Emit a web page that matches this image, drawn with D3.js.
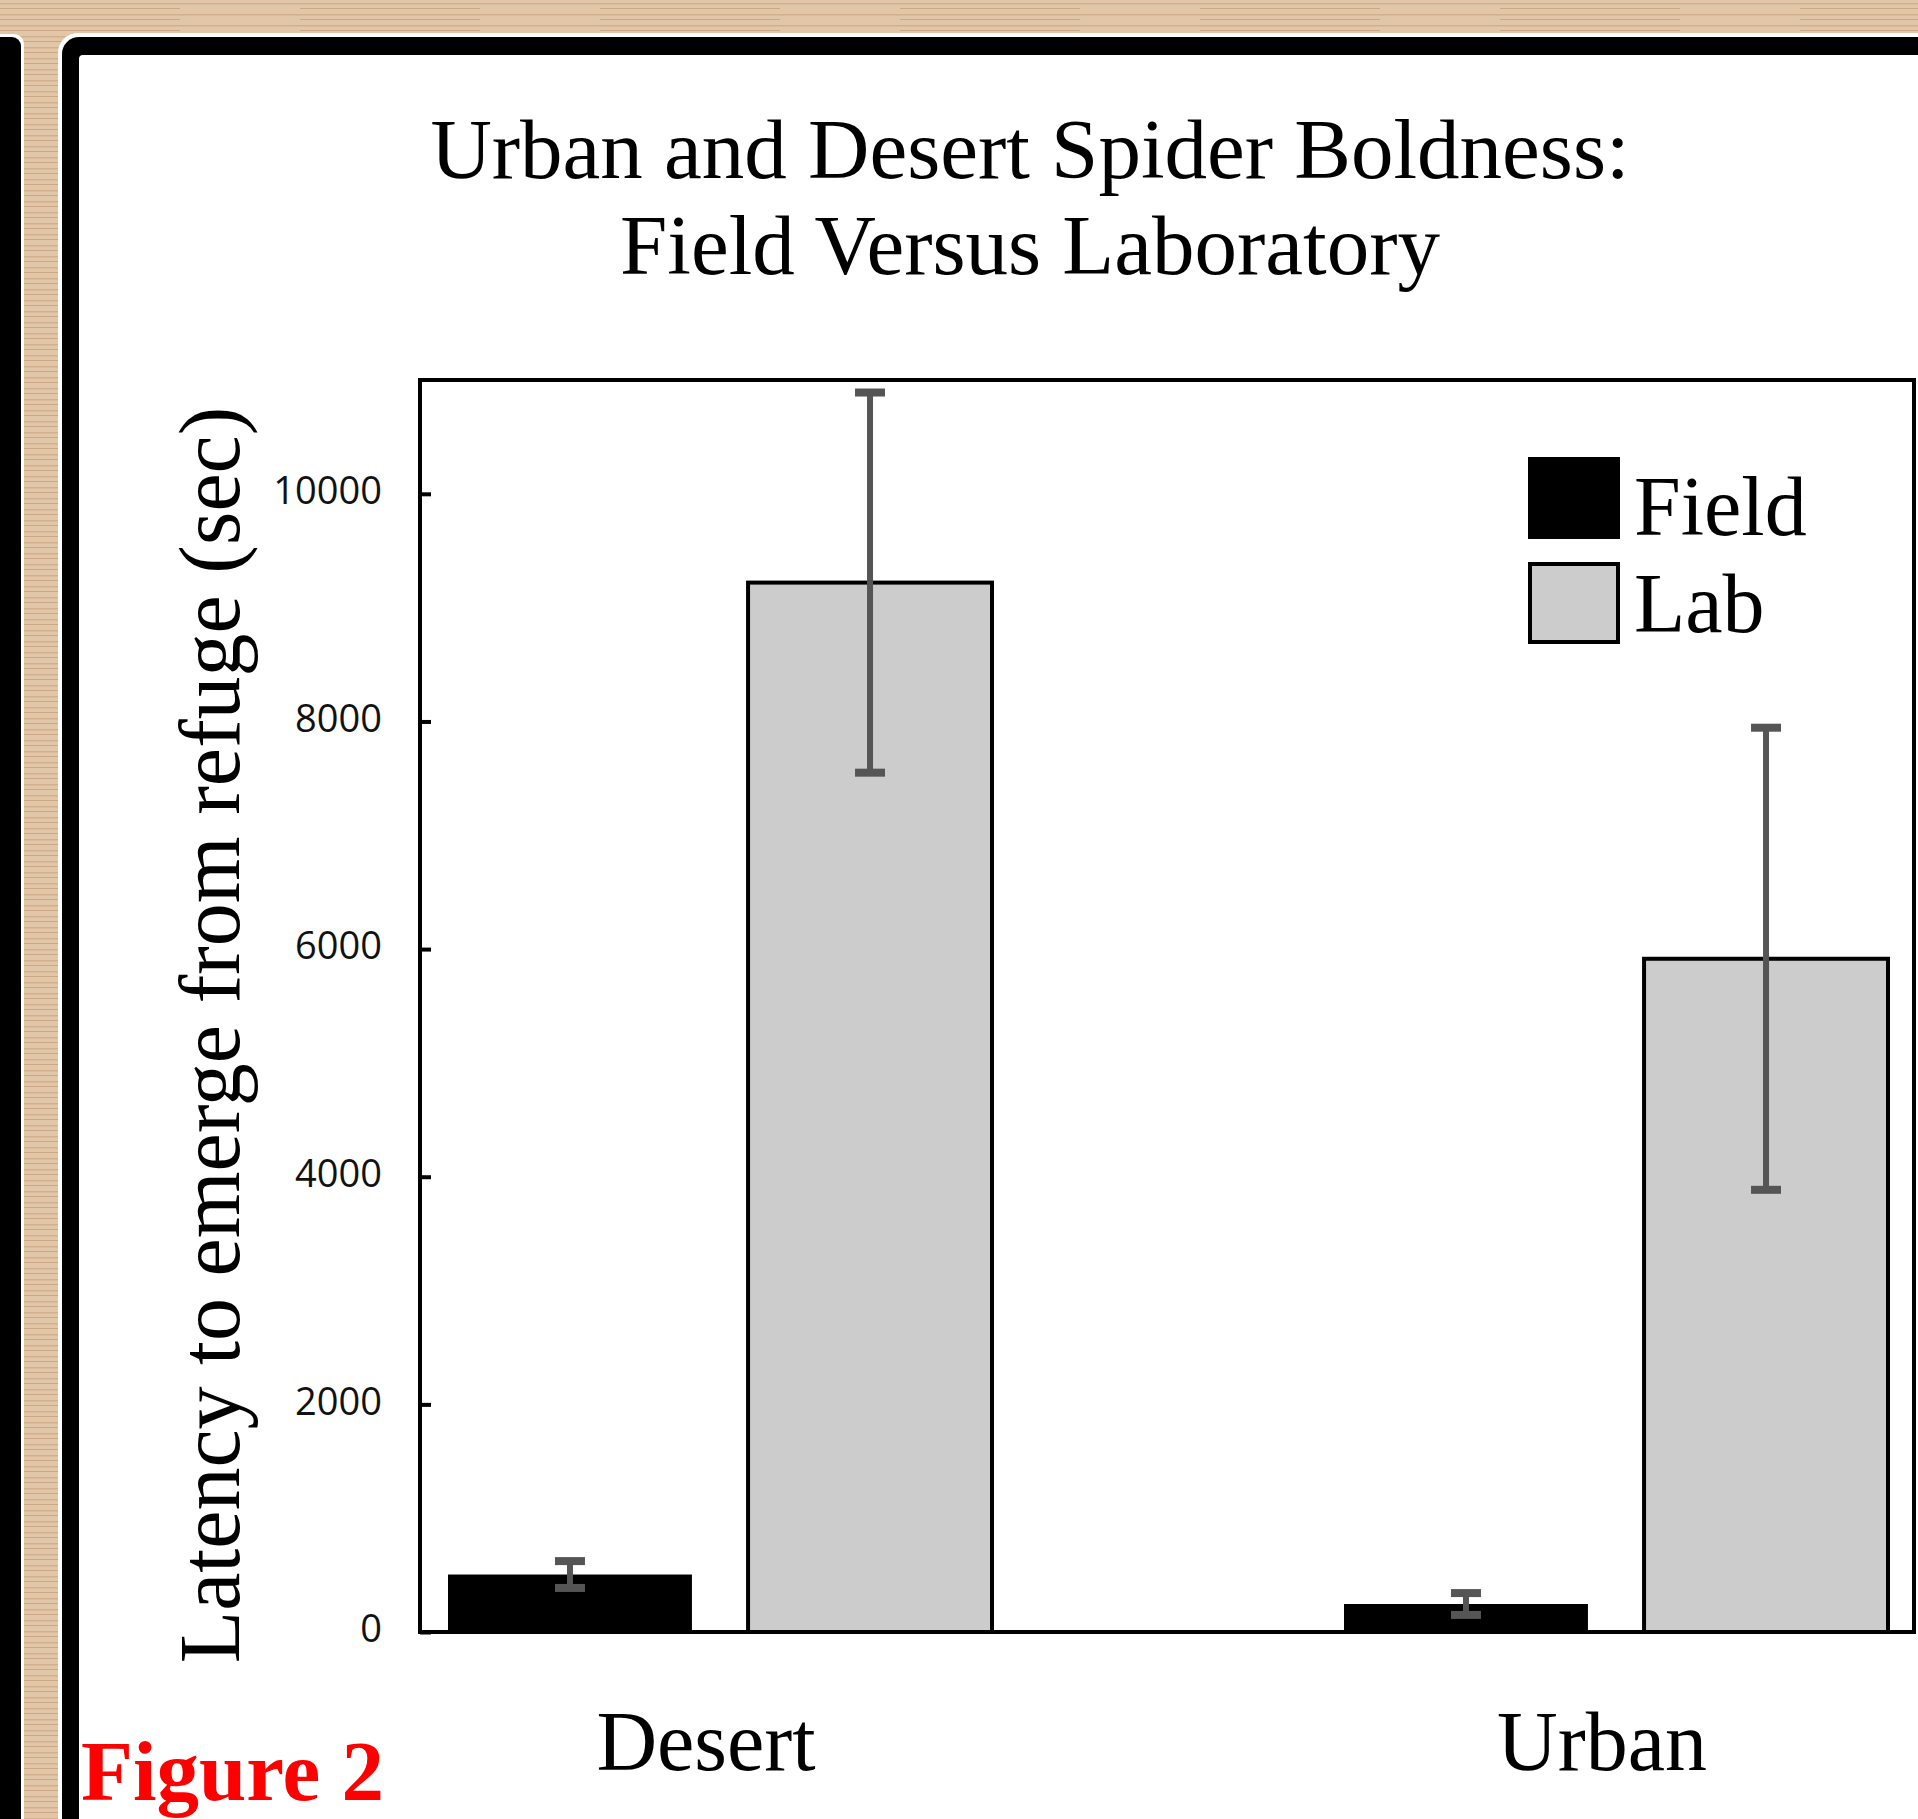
<!DOCTYPE html>
<html>
<head>
<meta charset="utf-8">
<script src="https://cdn.jsdelivr.net/npm/d3@7"></script>
<style>
  html, body { margin: 0; padding: 0; background: #dfc3a5; }
  svg { display: block; }
</style>
</head>
<body>
<svg id="chart"></svg>
<script>
// chart values
var categories = ['Desert', 'Urban'];
var series = ['Field', 'Lab'];
var fieldMeans = [505, 246];
var fieldErrs = [118, 96];
var labMeans = [9220, 5915];
var labErrs = [1670, 2030];
var yTicks = [0, 2000, 4000, 6000, 8000, 10000];

var W = 1918, H = 1819;
var svg = d3.select('#chart').attr('width', W).attr('height', H);
var serif = '"Liberation Serif", "Times New Roman", serif';

// wood-ish backdrop
var defs = svg.append('defs');
var pat = defs.append('pattern').attr('id', 'wood')
    .attr('patternUnits', 'userSpaceOnUse').attr('width', 300).attr('height', 11);
pat.append('rect').attr('width', 300).attr('height', 11).attr('fill', '#e2c6a8');
pat.append('rect').attr('y', 3).attr('width', 300).attr('height', 1.5).attr('fill', '#d2b08e');
pat.append('rect').attr('y', 8).attr('width', 180).attr('height', 1).attr('fill', '#cba786');
svg.append('rect').attr('width', W).attr('height', H).attr('fill', 'url(#wood)');

// frame pieces
svg.append('rect').attr('x', -30).attr('y', 34).attr('width', 54).attr('height', H).attr('rx', 10).attr('fill', '#fff');
svg.append('rect').attr('x', -30).attr('y', 37).attr('width', 51).attr('height', H).attr('rx', 9).attr('fill', '#000');
svg.append('rect').attr('x', 58).attr('y', 33).attr('width', W).attr('height', H).attr('rx', 20).attr('fill', '#fff');
svg.append('rect').attr('x', 62).attr('y', 37).attr('width', W).attr('height', H).attr('rx', 17).attr('fill', '#000');
svg.append('rect').attr('x', 79).attr('y', 55).attr('width', W).attr('height', H).attr('rx', 4).attr('fill', '#fff');

// title
var title = svg.append('text').attr('text-anchor', 'middle')
    .attr('font-family', serif).attr('font-size', 85).attr('fill', '#000');
title.append('tspan').attr('x', 1030).attr('y', 178).text('Urban and Desert Spider Boldness:');
title.append('tspan').attr('x', 1030).attr('y', 274).text('Field Versus Laboratory');

// plot area
var plot = {left: 420, top: 380, right: 1914, bottom: 1632};

var y = d3.scaleLinear().domain([0, 11000]).range([plot.bottom, plot.top]);
var x0 = d3.scaleBand().domain(categories).range([272, 2064]);
var x1 = d3.scaleBand().domain(series).range([176, 720]).paddingInner(0.187);

var rows = categories.map(function(c, i) {
  return {cat: c, vals: [
    {key: 'Field', mean: fieldMeans[i], err: fieldErrs[i]},
    {key: 'Lab', mean: labMeans[i], err: labErrs[i]}
  ]};
});

var yAxis = svg.append('g')
    .attr('transform', 'translate(' + plot.left + ',0)')
    .call(d3.axisLeft(y).tickValues(yTicks).tickFormat(d3.format('d'))
      .tickSizeInner(-11).tickSizeOuter(0).tickPadding(38));
yAxis.select('.domain').remove();
yAxis.selectAll('.tick line').attr('stroke', '#000').attr('stroke-width', 4);
yAxis.selectAll('.tick text')
    .attr('font-family', '"Open Sans", "Liberation Sans", sans-serif')
    .attr('font-size', 38).attr('dy', '0.26em').attr('fill', '#111');

var groups = svg.selectAll('.grp').data(rows).enter().append('g')
    .attr('class', 'grp')
    .attr('transform', function(d) { return 'translate(' + x0(d.cat) + ',0)'; });

groups.selectAll('rect').data(function(d) { return d.vals; }).enter().append('rect')
    .attr('x', function(d) { return x1(d.key); })
    .attr('y', function(d) { return y(d.mean); })
    .attr('width', x1.bandwidth())
    .attr('height', function(d) { return y(0) - y(d.mean); })
    .attr('fill', function(d) { return d.key === 'Field' ? '#000' : '#cccccc'; })
    .attr('stroke', '#000')
    .attr('stroke-width', function(d) { return d.key === 'Field' ? 0 : 4; });

// error bars
var eb = groups.selectAll('.eb').data(function(d) { return d.vals; }).enter().append('g')
    .attr('class', 'eb')
    .attr('stroke', '#555').attr('stroke-width', 6);
eb.append('line')
    .attr('x1', function(d) { return x1(d.key) + x1.bandwidth() / 2; })
    .attr('x2', function(d) { return x1(d.key) + x1.bandwidth() / 2; })
    .attr('y1', function(d) { return y(d.mean + d.err); })
    .attr('y2', function(d) { return y(d.mean - d.err); });
[1, -1].forEach(function(s) {
  eb.append('line')
      .attr('stroke-width', 8)
      .attr('x1', function(d) { return x1(d.key) + x1.bandwidth() / 2 - 15; })
      .attr('x2', function(d) { return x1(d.key) + x1.bandwidth() / 2 + 15; })
      .attr('y1', function(d) { return y(d.mean + s * d.err); })
      .attr('y2', function(d) { return y(d.mean + s * d.err); });
});

// plot frame
svg.append('rect')
    .attr('x', plot.left).attr('y', plot.top)
    .attr('width', plot.right - plot.left).attr('height', plot.bottom - plot.top)
    .attr('fill', 'none').attr('stroke', '#000').attr('stroke-width', 4);

// category labels
svg.selectAll('.cat').data(categories).enter().append('text')
    .attr('class', 'cat')
    .attr('x', function(d) { return x0(d) + x0.bandwidth() / 2 - 14; })
    .attr('y', 1770)
    .attr('text-anchor', 'middle')
    .attr('font-family', serif).attr('font-size', 84)
    .text(function(d) { return d; });

// y label
svg.append('text')
    .attr('transform', 'translate(239,1035) rotate(-90)')
    .attr('text-anchor', 'middle')
    .attr('font-family', serif).attr('font-size', 86)
    .text('Latency to emerge from refuge (sec)');

// legend
var legend = svg.append('g');
legend.append('rect').attr('x', 1528).attr('y', 457).attr('width', 92).attr('height', 82).attr('fill', '#000');
legend.append('rect').attr('x', 1530).attr('y', 564).attr('width', 88).attr('height', 78)
    .attr('fill', '#cccccc').attr('stroke', '#000').attr('stroke-width', 4);
legend.selectAll('.lg').data(series).enter().append('text')
    .attr('x', 1634)
    .attr('y', function(d, i) { return i === 0 ? 535 : 632; })
    .attr('font-family', serif).attr('font-size', 84)
    .text(function(d) { return d; });

// caption
svg.append('text')
    .attr('x', 81).attr('y', 1800)
    .attr('font-family', serif).attr('font-weight', 'bold').attr('font-size', 85)
    .attr('fill', '#ff0000')
    .text('Figure 2');
</script>
</body>
</html>
